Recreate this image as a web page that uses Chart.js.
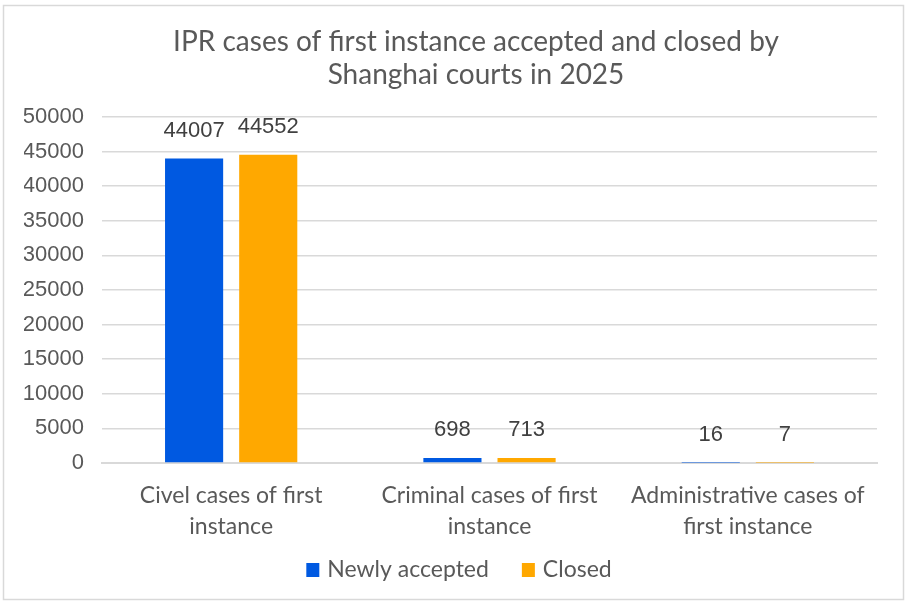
<!DOCTYPE html>
<html>
<head>
<meta charset="utf-8">
<script src="https://cdn.jsdelivr.net/npm/chart.js@4"></script>
<style>
  html, body { margin: 0; padding: 0; background: #fff; }
  #wrap { width: 908px; height: 604px; }
</style>
</head>
<body>
<div id="wrap"><canvas id="c" width="908" height="604"></canvas></div>
<script>
// ---- Data ----
const CATEGORIES = [
  ["Civel cases of first", "instance"],
  ["Criminal cases of first", "instance"],
  ["Administrative cases of", "first instance"]
];
const NEWLY_ACCEPTED = [44007, 698, 16];
const CLOSED = [44552, 713, 7];
const TITLE = ["IPR cases of first instance accepted and closed by", "Shanghai courts in 2025"];

const GREY = "#595959";
const GRID = "#d9d9d9";
const CAL = "Lato, 'Open Sans', sans-serif";
const ARIAL = "'Liberation Sans', Arial, sans-serif";

// ---- Plugins ----
// white page, thin frame, two-line title and the legend, placed like the original
const frame = {
  id: "frame",
  beforeDraw(chart) {
    const c = chart.ctx;
    c.save();
    c.fillStyle = "#fff";
    c.fillRect(0, 0, chart.width, chart.height);
    c.strokeStyle = GRID;
    c.lineWidth = 1.5;
    c.strokeRect(3.5, 5.5, 900, 594);

    c.fillStyle = GREY;
    c.font = "28px " + CAL;
    c.textAlign = "center";
    c.textBaseline = "middle";
    TITLE.forEach((line, i) => c.fillText(line, 476, 42 + i * 33));

    // legend
    c.font = "23px " + CAL;
    c.textAlign = "left";
    const items = chart.data.datasets.map(ds => ({
      text: ds.label, color: ds.backgroundColor, w: c.measureText(ds.label).width
    }));
    const box = 13, gap = 8, between = 33;
    const total = items.reduce((s, it) => s + box + gap + it.w, 0) + between * (items.length - 1);
    let x = 459 - total / 2;
    const y = 570;
    items.forEach(it => {
      c.fillStyle = it.color;
      c.fillRect(x, y - 7, box, 14);
      c.fillStyle = GREY;
      c.fillText(it.text, x + box + gap, y);
      x += box + gap + it.w + between;
    });
    c.restore();
  }
};

const valueLabels = {
  id: "valueLabels",
  afterDatasetsDraw(chart) {
    const c = chart.ctx;
    c.save();
    c.font = "22px " + ARIAL;
    c.fillStyle = "#404040";
    c.textAlign = "center";
    c.textBaseline = "middle";
    chart.data.datasets.forEach((ds, i) => {
      chart.getDatasetMeta(i).data.forEach((bar, j) => {
        c.fillText(String(ds.data[j]), bar.x, bar.y - 28);
      });
    });
    c.restore();
  }
};

// ---- Chart ----
new Chart(document.getElementById("c"), {
  type: "bar",
  data: {
    labels: CATEGORIES,
    datasets: [
      { label: "Newly accepted", data: NEWLY_ACCEPTED, backgroundColor: "#0059e1" },
      { label: "Closed", data: CLOSED, backgroundColor: "#ffa800" }
    ]
  },
  options: {
    responsive: false,
    animation: false,
    devicePixelRatio: 1,
    categoryPercentage: 0.574,
    barPercentage: 0.784,
    layout: { padding: { left: 24, right: 31, top: 117, bottom: 53 } },
    plugins: {
      tooltip: { enabled: false },
      title: { display: false },
      legend: { display: false }
    },
    scales: {
      x: {
        grid: { display: false },
        border: { color: GRID, width: 2 },
        ticks: {
          color: GREY,
          font: { family: CAL, size: 23, lineHeight: 1.35 },
          maxRotation: 0,
          padding: 9
        }
      },
      y: {
        min: 0,
        max: 50000,
        afterFit(scale) { scale.width = 78; },
        border: { display: false },
        grid: { color: GRID, lineWidth: 1.5, drawTicks: false },
        ticks: {
          stepSize: 5000,
          color: GREY,
          font: { family: ARIAL, size: 22 },
          padding: 18,
          callback: v => String(v)
        }
      }
    }
  },
  plugins: [frame, valueLabels]
});
</script>
</body>
</html>
